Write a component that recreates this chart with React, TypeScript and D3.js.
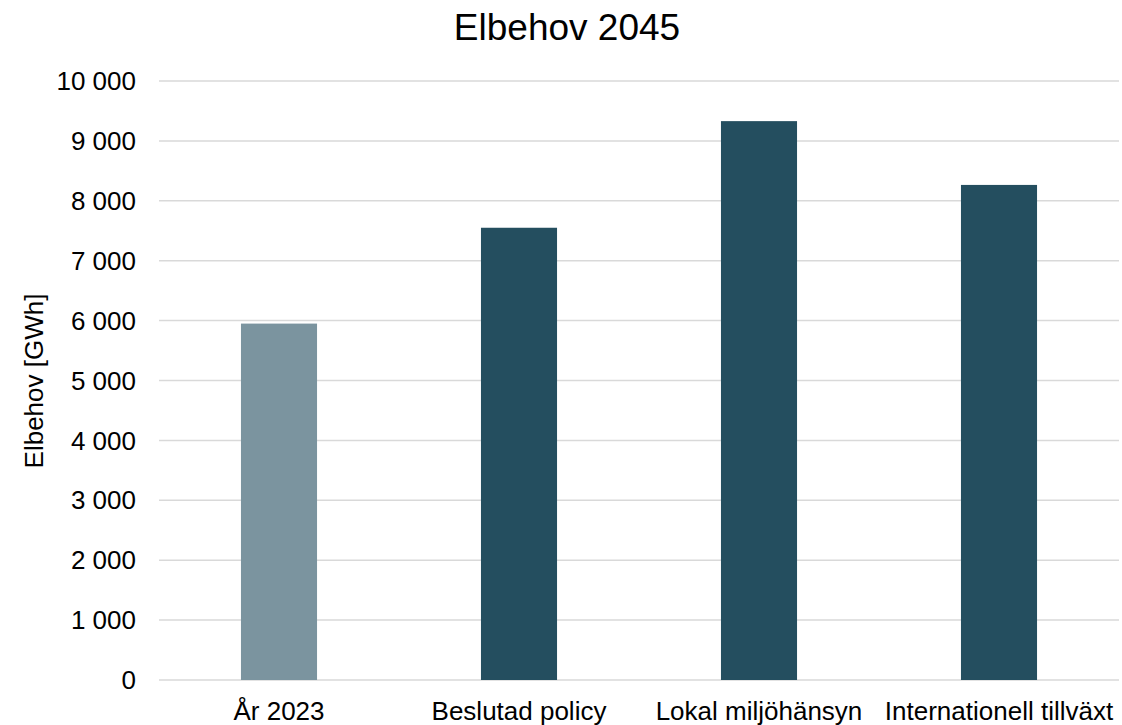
import React from "react";
import * as d3 from "d3";

const categories = ["År 2023", "Beslutad policy", "Lokal miljöhänsyn", "Internationell tillväxt"];
const values = [5950, 7550, 9330, 8265];
const barColors = ["#7B949F", "#244E5F", "#244E5F", "#244E5F"];
const yTicks = [0, 1000, 2000, 3000, 4000, 5000, 6000, 7000, 8000, 9000, 10000];

const W = 1122;
const H = 725;
const margin = { left: 159, right: 3, top: 81, bottom: 45 };

const fmt = (v: number) => {
  const s = String(v);
  return s.replace(/\B(?=(\d{3})+(?!\d))/g, " ");
};

export default function App() {
  const x = d3
    .scaleBand<string>()
    .domain(categories)
    .range([margin.left, W - margin.right])
    .paddingInner(0.683)
    .paddingOuter(0.3415);
  const y = d3.scaleLinear().domain([0, 10000]).range([H - margin.bottom, margin.top]);
  const font = "'Liberation Sans', Arial, sans-serif";
  return (
    <svg
      width={W}
      height={H}
      style={{ position: "absolute", left: 0, top: 0, background: "#fff" }}
      fontFamily={font}
    >
      <rect x={0} y={0} width={W} height={H} fill="#fff" />
      <text x={567} y={40} textAnchor="middle" fontSize={37} fill="#000">
        Elbehov 2045
      </text>
      {yTicks.map((t) => (
        <g key={t}>
          <line
            x1={margin.left}
            x2={W - margin.right}
            y1={y(t)}
            y2={y(t)}
            stroke="#d9d9d9"
            strokeWidth={1.5}
          />
          <text
            x={136}
            y={y(t)}
            dy="0.35em"
            textAnchor="end"
            fontSize={26}
            fill="#000"
          >
            {fmt(t)}
          </text>
        </g>
      ))}
      {categories.map((c, i) => (
        <rect
          key={c}
          x={x(c)}
          y={y(values[i])}
          width={x.bandwidth()}
          height={y(0) - y(values[i])}
          fill={barColors[i]}
        />
      ))}
      {categories.map((c) => (
        <text
          key={c}
          x={(x(c) as number) + x.bandwidth() / 2}
          y={720}
          textAnchor="middle"
          fontSize={26}
          fill="#000"
        >
          {c}
        </text>
      ))}
      <text
        transform={`translate(43, 381) rotate(-90)`}
        textAnchor="middle"
        fontSize={26}
        fill="#000"
      >
        Elbehov [GWh]
      </text>
    </svg>
  );
}
